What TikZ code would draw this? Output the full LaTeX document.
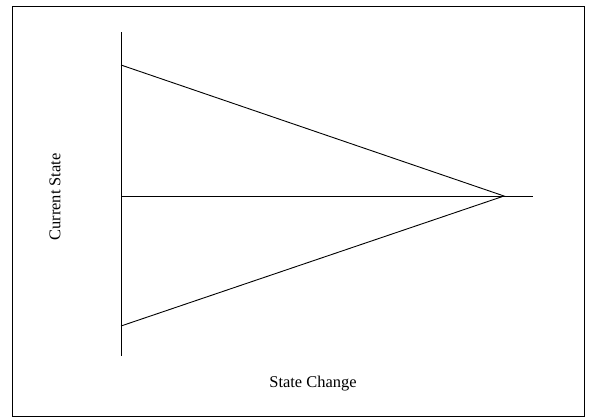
\documentclass[tikz,border=0pt]{standalone}
\usepackage{fontspec}
\setmainfont{Liberation Serif}
\usepackage{tikz}

\begin{document}
\begin{tikzpicture}[x=1bp, y=-1bp,
  ln/.style={line width=0.9bp, draw=black},
  lbl/.style={font=\fontsize{16.5}{18}\selectfont, inner sep=0pt}]
\useasboundingbox (0,0) rectangle (593,417);
\draw[ln] (12.5,6) rectangle (584,416);
% axis
\coordinate (top) at (121,32);
\coordinate (bot) at (121,356);
\coordinate (hi) at (121,65);
\coordinate (lo) at (121,326);
\coordinate (mid) at (121,196);
\coordinate (apex) at (504,196);
\coordinate (end) at (533,196);
\draw[ln] (top) -- (bot);
\draw[ln] (mid) -- (end);
\draw[ln] (hi) -- (apex) -- (lo);
\node[lbl] (xl) at (313,384) {State Change};
\node[lbl, rotate=90] (yl) at (55,197) {Current State};
\end{tikzpicture}
\end{document}
